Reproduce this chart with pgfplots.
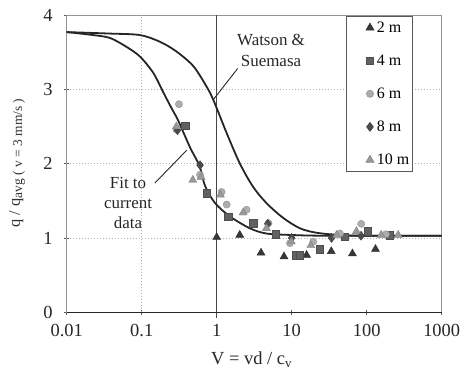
\documentclass[border=0pt]{standalone}
\usepackage{pgfplots}
\pgfplotsset{compat=1.18}
\usepackage{fontspec}
\setmainfont{Liberation Serif}
\definecolor{gA}{gray}{0.22}
\definecolor{gB}{gray}{0.38}
\definecolor{gC}{gray}{0.68}
\definecolor{gD}{gray}{0.30}
\definecolor{gE}{gray}{0.60}
\pgfplotsset{mylegimg/.style={legend image code/.code={\path[draw=none, fill=none] (0bp,-3bp) rectangle (21bp,3bp); \draw[##1] plot coordinates {(16bp,0bp)};}}}
\begin{document}
\begin{tikzpicture}
\begin{axis}[
  scale only axis, width=375bp, height=297.3bp,
  at={(0,0)}, anchor=south west,
  xmode=log, log basis x=10,
  xmin=0.01, xmax=1000, ymin=0, ymax=4,
  xtick={0.01,0.1,1,10,100,1000},
  xticklabels={0.01,0.1,1,10,100,1000},
  ytick={0,1,2,3,4},
  xminorticks=false,
  /pgf/number format/assume math mode=true,
  tick label style={font=\fontsize{18.5}{20}\selectfont, text=black!85},
  xticklabel style={yshift=-6bp},
  yticklabel style={xshift=-8bp},
  axis line style={gray!85, line width=0.6bp},
  tick style={gray!70!black, line width=0.6bp},
  major tick length=5bp,
  tick align=center,
  xtick pos=bottom, ytick pos=left,
  ymajorgrids,
  grid style={gray!60, dash pattern=on 1.5bp off 1.5bp, line width=0.5bp},
  xlabel={V = vd / c\textsubscript{v}},
  xlabel style={at={(axis description cs:0.493,-0.160)}, anchor=center, font=\fontsize{18.5}{20}\selectfont, text=black!85},
  legend style={at={(rel axis cs:0.744,0.995)}, anchor=north west,
    draw=gray!70!black, line width=0.6bp, fill=white,
    font=\fontsize{16}{18}\selectfont, row sep=17bp,
    inner xsep=8bp, inner ysep=3bp, cells={anchor=west}},
  clip=false,
]
% grid extras
\draw[gray!60, dash pattern=on 1.5bp off 1.5bp, line width=0.5bp] (axis cs:0.1,0) -- (axis cs:0.1,4);
\draw[gray!55!black, line width=0.8bp] (axis cs:1,-0.08) -- (axis cs:1,4);
\draw[black!85, line width=1bp] (axis cs:0.01,0) -- (axis cs:1000,0);

% data
\addplot[only marks, mark=triangle*, mark size=4.6bp, draw=gA!80!black, fill=gA, mylegimg] coordinates {
(1.0,1.01) (2.03,1.04) (3.9,0.80) (7.9,0.75) (15.8,0.77) (33.7,0.82) (64.6,0.79) (131,0.85)};
\addlegendentry{\makebox[25bp][l]{2 m}}
\addplot[only marks, mark=square*, mark size=3.7bp, draw=gB!80!black, fill=gB, mylegimg] coordinates {
(0.38,2.51) (0.73,1.60) (1.42,1.29) (3.08,1.20) (6.1,1.05) (11.4,0.77) (12.8,0.77) (23.8,0.85) (50.9,1.02) (104,1.09) (204,1.04)};
\addlegendentry{\makebox[25bp][l]{4 m}}
\addplot[only marks, mark=*, mark size=3.6bp, draw=gC!85!black, fill=gC, mylegimg] coordinates {
(0.314,2.80) (0.29,2.46) (0.60,1.85) (1.16,1.62) (1.36,1.45) (2.5,1.38) (4.9,1.20) (9.5,0.93) (19.4,0.95) (44,1.06) (84.6,1.19) (180,1.05)};
\addlegendentry{\makebox[25bp][l]{6 m}}
\addplot[only marks, mark=diamond*, mark size=4.5bp, draw=gD!80!black, fill=gD, mylegimg] coordinates {
(0.30,2.45) (0.60,1.98) (4.8,1.19) (10,1.00) (34,1.00) (84,1.03)};
\addlegendentry{\makebox[25bp][l]{8 m}}
\addplot[only marks, mark=triangle*, mark size=4.6bp, draw=gE!85!black, fill=gE, mylegimg] coordinates {
(0.29,2.50) (0.48,1.78) (0.62,1.82) (1.12,1.58) (2.25,1.34) (4.6,1.13) (9.9,0.95) (18,0.90) (39.8,1.04) (73,1.09) (156,1.04) (263,1.04)};
\addlegendentry{\makebox[25bp][l]{10 m}}

% Watson & Suemasa curve
\addplot[black!85, line width=1.8bp, smooth, forget plot] coordinates {
(0.01,3.77) (0.038,3.75) (0.095,3.73) (0.175,3.64) (0.29,3.51) (0.49,3.31) (0.73,3.04) (0.9,2.86) (1.36,2.41) (2.04,2.0) (3.05,1.69) (4.6,1.47) (7.7,1.27) (12.9,1.13) (21.5,1.07) (44,1.04) (100,1.03) (1000,1.03)};
% fit curve
\addplot[black!85, line width=1.8bp, smooth, forget plot] coordinates {
(0.01,3.77) (0.0226,3.73) (0.038,3.69) (0.063,3.57) (0.095,3.44) (0.143,3.22) (0.194,2.96) (0.24,2.78) (0.30,2.60) (0.36,2.42) (0.45,2.2) (0.59,1.97) (0.70,1.70) (0.95,1.47) (1.5,1.29) (2.77,1.13) (4.6,1.06) (10,1.04) (30,1.03) (1000,1.03)};

% annotations
\node[align=center, font=\fontsize{17}{21}\selectfont, text=black!85] at (axis cs:5.3,3.52) {Watson \&\\Suemasa};
\draw[black!85, line width=0.9bp] (axis cs:1.905,3.28) -- (axis cs:0.90,2.86);
\node[align=center, font=\fontsize{17}{20.5}\selectfont, text=black!85] at (axis cs:0.0657,1.47) {Fit to\\current\\data};
\draw[black!85, line width=0.9bp] (axis cs:0.150,1.74) -- (axis cs:0.398,2.18);
% y label
\node[rotate=90, anchor=center, font=\fontsize{16.5}{18}\selectfont, text=black!80] at (axis description cs:-0.1325,0.502) {q / q\raisebox{-0.3ex}{\fontsize{13.5}{14}\selectfont avg ( v = 3 mm/s )}};
\end{axis}
\pgfresetboundingbox
\path[use as bounding box] (-66.7bp,-61.7bp) rectangle (397.3bp,312.3bp);
\end{tikzpicture}
\end{document}
